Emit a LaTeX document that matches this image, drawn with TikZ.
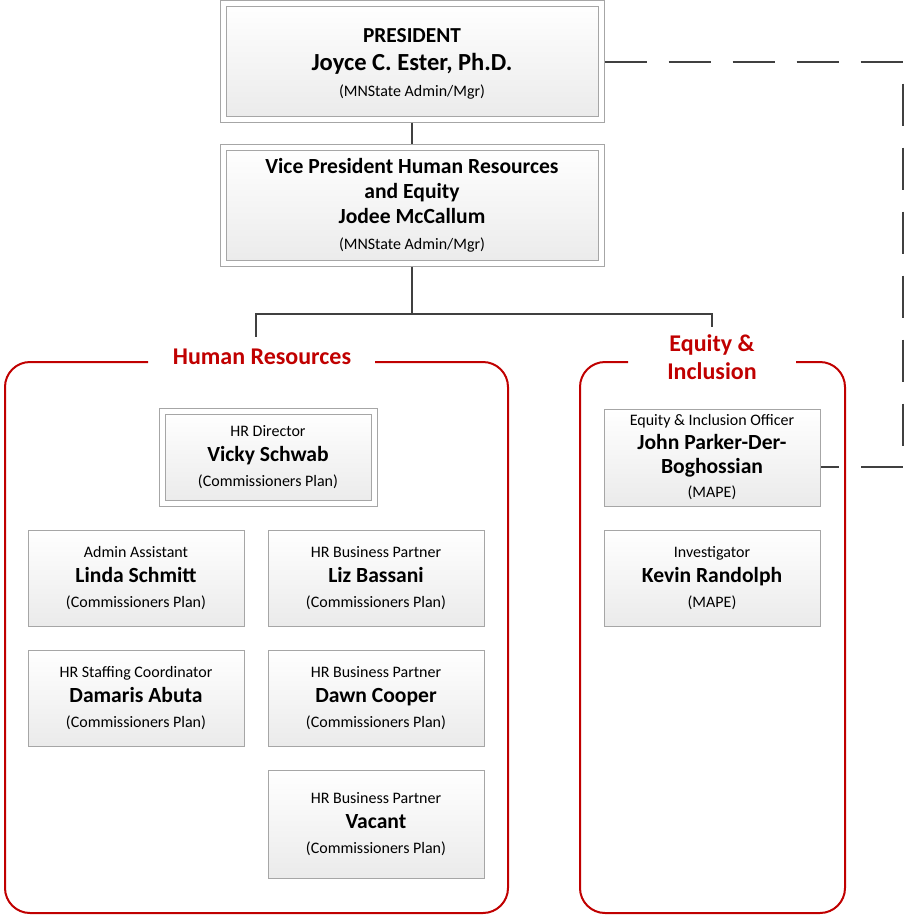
\documentclass[tikz,border=0pt]{standalone}
\usepackage{fontspec}
\setmainfont{Carlito}
\definecolor{linegray}{HTML}{404040}
\definecolor{boxgray}{HTML}{A6A6A6}
\definecolor{grpred}{HTML}{C00000}
\newcommand{\pname}[1]{{\fontsize{16.2}{18}\selectfont\bfseries #1}}
\tikzset{
  postbox/.style={draw=boxgray, line width=0.75pt, top color=white, bottom color=black!8,
    align=center, inner sep=0pt, minimum width=162pt, minimum height=72pt,
    font=\fontsize{12}{19}\selectfont},
  leadbox/.style={postbox, double=white, double distance=3.75pt},
  link/.style={draw=linegray, line width=1.9pt},
  grp/.style={draw=grpred, line width=1.5pt, rounded corners=18.75pt},
  grplabel/.style={text=grpred, font=\fontsize{18}{21}\selectfont\bfseries, align=center}
}
\begin{document}
\begin{tikzpicture}[x=0.75pt, y=-0.75pt]
\useasboundingbox (0,0) rectangle (905,915);
% top of the chart
\node[leadbox, minimum width=283.5pt, minimum height=87pt, font=\fontsize{12}{21}\selectfont] (pres) at (412,61)
  {\rule{0pt}{15pt}{\fontsize{16}{18}\selectfont\bfseries PRESIDENT}\\{\fontsize{18.4}{21}\selectfont\bfseries Joyce C. Ester, Ph.D.}\\[-1.5pt](MNState Admin/Mgr)};
\node[leadbox, minimum width=283.5pt, minimum height=87pt] (vp) at (412,205)
  {\pname{Vice President Human Resources}\\\pname{and Equity}\\\pname{Jodee McCallum}\\(MNState Admin/Mgr)};
% human resources
\node[grplabel] (hrlabel) at (262,357) {Human Resources};
\node[leadbox, minimum width=159pt, minimum height=69pt] (hrdir) at (268,457)
  {HR Director\\\pname{Vicky Schwab}\\(Commissioners Plan)};
\node[postbox] (linda) at (136,578) {Admin Assistant\\\pname{Linda Schmitt}\\(Commissioners Plan)};
\node[postbox] (liz) at (376,578) {HR Business Partner\\\pname{Liz Bassani}\\(Commissioners Plan)};
\node[postbox] (damaris) at (136,698) {HR Staffing Coordinator\\\pname{Damaris Abuta}\\(Commissioners Plan)};
\node[postbox] (dawn) at (376,698) {HR Business Partner\\\pname{Dawn Cooper}\\(Commissioners Plan)};
\node[postbox, minimum height=81pt] (vacant) at (376,824) {HR Business Partner\\\pname{Vacant}\\(Commissioners Plan)};
\draw[grp] (375,362) -- (508,362) -- (508,913) -- (5,913) -- (5,362) -- (148,362);
% equity and inclusion
\node[grplabel] (eilabel) at (712,357) {Equity \&\\Inclusion};
\node[postbox, minimum height=72.75pt, font=\fontsize{12}{18}\selectfont] (john) at (712,457.5)
  {Equity \& Inclusion Officer\\\pname{John Parker-Der-}\\\pname{Boghossian}\\(MAPE)};
\node[postbox] (kevin) at (712,578) {Investigator\\\pname{Kevin Randolph}\\(MAPE)};
\draw[grp] (796,362) -- (845,362) -- (845,913) -- (580,913) -- (580,362) -- (628,362);
% connectors
\coordinate (hub) at (412,314);
\coordinate (hrtop) at (256,337);
\coordinate (eitop) at (712,327);
\coordinate (dturn) at (903,62);
\coordinate (djohn) at (903,467);
\draw[link, shorten <=2.25pt, shorten >=2.25pt] (pres) -- (vp);
\draw[link, shorten <=2.25pt] (vp.south) -- (hub) -| (hrtop);
\draw[link] (hub) -| (eitop);
\draw[link, dash pattern=on 31.5pt off 16.5pt, shorten <=2.25pt]
  (pres.east |- dturn) -- (dturn) -- (djohn) -- (djohn -| john.east);
\end{tikzpicture}
\end{document}
